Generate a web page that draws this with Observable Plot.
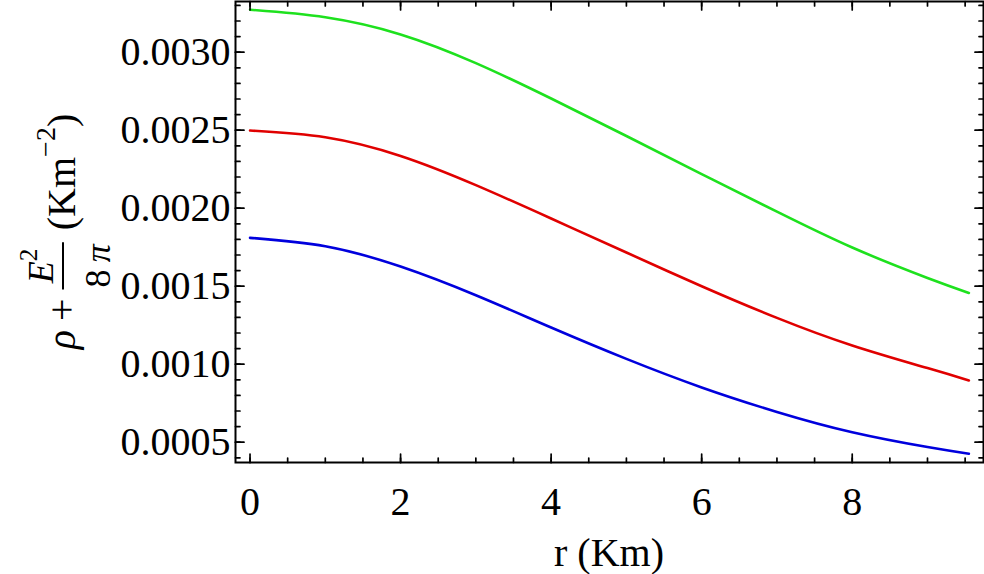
<!DOCTYPE html>
<html><head><meta charset="utf-8">
<script src="https://cdn.jsdelivr.net/npm/d3@7"></script>
<script src="https://cdn.jsdelivr.net/npm/@observablehq/plot@0.6"></script>
<style>body{margin:0;background:#fff}</style>
</head><body><div id="chart"></div>
<script>
// radius r (Km)
const r = [0, 1, 2, 3, 4, 5, 6, 7, 8, 9, 9.55];
// rho + E^2/(8 pi)  (Km^-2)
const green = [0.003272, 0.003224, 0.003114, 0.002930, 0.002703, 0.002463, 0.002219, 0.001978, 0.001748, 0.001553, 0.001457];
const red   = [0.002498, 0.002455, 0.002335, 0.002148, 0.001934, 0.001716, 0.001500, 0.001297, 0.001120, 0.000975, 0.000896];
const blue  = [0.001810, 0.001756, 0.001626, 0.001442, 0.001235, 0.001034, 0.000851, 0.000694, 0.000564, 0.000469, 0.000426];
const seriesNames = ["curve A", "curve B", "curve C"];
const seriesColors = ["#1ee11e", "#e00000", "#0000dd"];
const xTickValues = [0, 2, 4, 6, 8];
const xMinorValues = [0, 0.5, 1, 1.5, 2, 2.5, 3, 3.5, 4, 4.5, 5, 5.5, 6, 6.5, 7, 7.5, 8, 8.5, 9, 9.5];
const yTickValues = [0.0005, 0.0010, 0.0015, 0.0020, 0.0025, 0.0030];
const yMinorValues = [0.0004, 0.0005, 0.0006, 0.0007, 0.0008, 0.0009, 0.0010, 0.0011, 0.0012, 0.0013, 0.0014, 0.0015, 0.0016, 0.0017, 0.0018, 0.0019, 0.0020, 0.0021, 0.0022, 0.0023, 0.0024, 0.0025, 0.0026, 0.0027, 0.0028, 0.0029, 0.0030, 0.0031, 0.0032, 0.0033];
const xLabel = "r (Km)";

const rows = [];
[green, red, blue].forEach((vals, i) => vals.forEach((v, j) => rows.push({s: seriesNames[i], r: r[j], v})));

const tickShape = {draw(ctx, l) { ctx.moveTo(0, 0); ctx.lineTo(0, -l); }};
const tk = (data, opts, len) => Plot.vector(data, {...opts, length: len, shape: tickShape, anchor: "start", stroke: "black", strokeWidth: 1.7});

const serif = "'Liberation Serif', 'Times New Roman', serif";
const plot = Plot.plot({
  width: 984, height: 574,
  marginLeft: 235, marginRight: 1, marginTop: 1, marginBottom: 112,
  style: {fontFamily: serif, background: "white", color: "black"},
  x: {domain: [-0.193, 9.744]},
  y: {domain: [0.00037, 0.003325]},
  color: {domain: seriesNames, range: seriesColors},
  marks: [
    Plot.line(rows, {x: "r", y: "v", z: "s", stroke: "s", strokeWidth: 2.6, curve: "natural"}),
    tk(yTickValues, {y: d => d, frameAnchor: "left", rotate: 90}, 8.5),
    tk(yMinorValues, {y: d => d, frameAnchor: "left", rotate: 90}, 4.5),
    tk(yTickValues, {y: d => d, frameAnchor: "right", rotate: -90}, 8.5),
    tk(yMinorValues, {y: d => d, frameAnchor: "right", rotate: -90}, 4.5),
    tk(xTickValues, {x: d => d, frameAnchor: "bottom", rotate: 0}, 8.5),
    tk(xMinorValues, {x: d => d, frameAnchor: "bottom", rotate: 0}, 4.5),
    tk(xTickValues, {x: d => d, frameAnchor: "top", rotate: 180}, 8.5),
    tk(xMinorValues, {x: d => d, frameAnchor: "top", rotate: 180}, 4.5),
    Plot.frame({stroke: "black", strokeWidth: 2}),
    Plot.axisY({ticks: yTickValues, tickSize: 0, tickPadding: 5, tickFormat: d3.format(".4f"), fontSize: 40, label: null}),
    Plot.axisX({ticks: xTickValues, tickSize: 0, tickPadding: 24, tickFormat: d3.format("d"), fontSize: 40, label: null})
  ]
});
document.getElementById("chart").appendChild(plot);

const svg = d3.select(plot);
// x-axis title
svg.append("text").attr("x", 609).attr("y", 566).attr("text-anchor", "middle")
  .attr("font-size", 40).attr("font-family", serif).attr("fill", "black").text(xLabel);

// y-axis title: rho + E^2/(8 pi) (Km^-2), rotated
const g = svg.append("g").attr("transform", "translate(0,231.5) rotate(-90)")
  .attr("font-family", serif).attr("fill", "black").attr("text-anchor", "start");
const fs = 40, ffs = 36;
const rho = g.append("text").attr("font-size", fs).attr("font-style", "italic").text("ρ");
const plus = g.append("text").attr("font-size", fs).text("+");
const num = g.append("text").attr("font-size", ffs);
num.append("tspan").attr("font-style", "italic").text("E");
num.append("tspan").attr("font-size", ffs * 0.7).attr("dy", -ffs * 0.45).text("2");
const den = g.append("text").attr("font-size", ffs).text("8\u2009");
den.append("tspan").attr("font-style", "italic").text("π");
const unit = g.append("text").attr("font-size", fs).text("(Km");
unit.append("tspan").attr("font-size", fs * 0.7).attr("dy", -fs * 0.5).text("−2");
unit.append("tspan").attr("font-size", fs).attr("dy", fs * 0.5).text(")");
const w = s => s.node().getComputedTextLength();
const wR = w(rho), wP = w(plus), wN = w(num), wD = w(den), wU = w(unit);
const gap1 = 9, gap2 = 12, pad = 2;
const wF = Math.max(wN, wD) + 2 * pad;
const W = wR + gap1 + wP + gap1 + wF + gap2 + wU;
let u = -W / 2;
rho.attr("x", u).attr("y", 75); u += wR + gap1;
plus.attr("x", u).attr("y", 75); u += wP + gap1;
g.append("line").attr("x1", u).attr("x2", u + wF).attr("y1", 63).attr("y2", 63).attr("stroke", "black").attr("stroke-width", 2);
num.attr("x", u + (wF - wN) / 2).attr("y", 53);
den.attr("x", u + (wF - wD) / 2).attr("y", 110);
u += wF + gap2;
unit.attr("x", u).attr("y", 75);
</script></body></html>
